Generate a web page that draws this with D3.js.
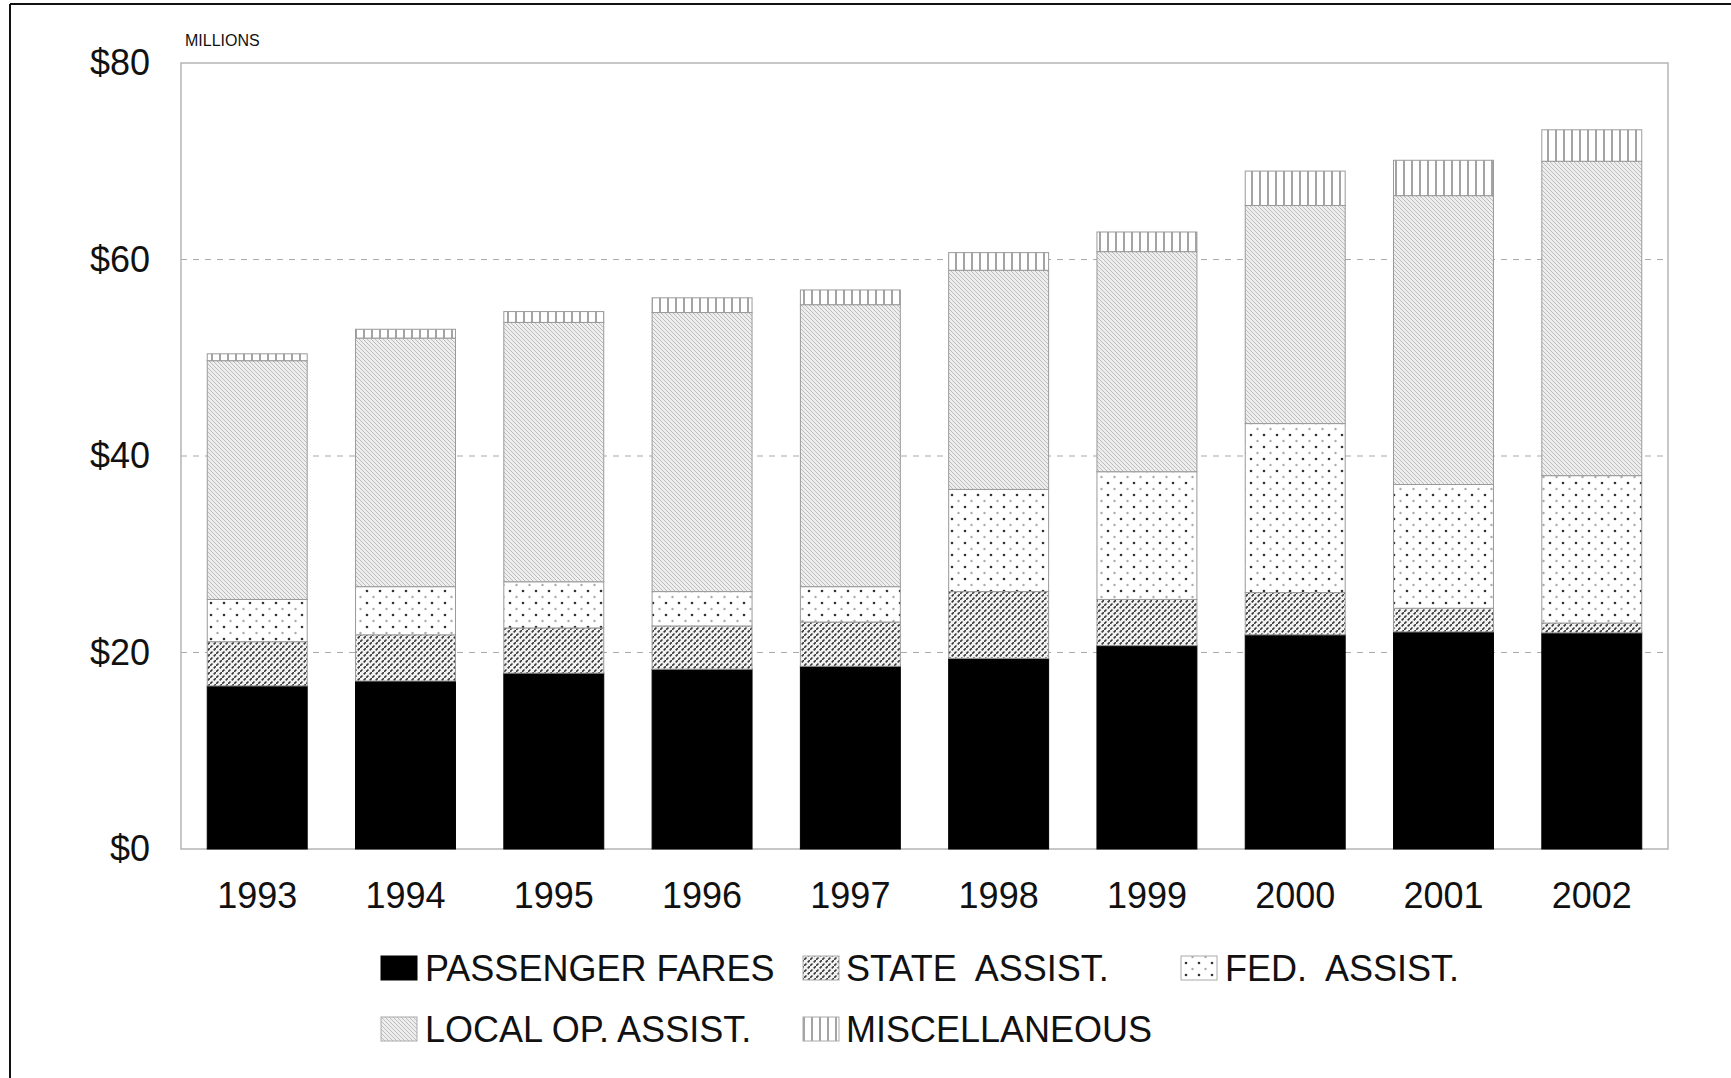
<!DOCTYPE html>
<html>
<head>
<meta charset="utf-8">
<script src="https://cdn.jsdelivr.net/npm/d3@7"></script>
<style>
  body { margin: 0; background: #fff; }
  text { font-family: "Liberation Sans", Arial, Helvetica, sans-serif; fill: #111; }
</style>
</head>
<body>
<svg id="chart" width="1731" height="1078"></svg>
<script>
var years = ['1993', '1994', '1995', '1996', '1997', '1998', '1999', '2000', '2001', '2002'];

var passengerFares = [16.6, 17.1, 17.9, 18.3, 18.6, 19.4, 20.7, 21.8, 22.1, 22.0];
var stateAssist    = [4.5, 4.7, 4.6, 4.4, 4.5, 6.8, 4.7, 4.3, 2.4, 1.0];
var fedAssist      = [4.3, 4.9, 4.7, 3.5, 3.6, 10.4, 13.0, 17.2, 12.6, 15.0];
var localOpAssist  = [24.3, 25.3, 26.4, 28.4, 28.7, 22.3, 22.4, 22.2, 29.4, 32.0];
var miscellaneous  = [0.7, 0.9, 1.1, 1.5, 1.5, 1.8, 2.0, 3.5, 3.6, 3.2];

var yTicks = [0, 20, 40, 60, 80];

var seriesKeys = ['fares', 'state', 'fed', 'local', 'misc'];
var seriesNames = ['PASSENGER FARES', 'STATE  ASSIST.', 'FED.  ASSIST.', 'LOCAL OP. ASSIST.', 'MISCELLANEOUS'];

var svg = d3.select('#chart');

// outer frame (only left and top edges fall inside the picture)
svg.append('line').attr('x1', 10).attr('y1', 4).attr('x2', 1731).attr('y2', 4)
  .attr('stroke', '#111').attr('stroke-width', 2);
svg.append('line').attr('x1', 10).attr('y1', 4).attr('x2', 10).attr('y2', 1078)
  .attr('stroke', '#111').attr('stroke-width', 2);

// fill patterns
var defs = svg.append('defs');

var p = defs.append('pattern').attr('id', 'pat-state').attr('patternUnits', 'userSpaceOnUse')
  .attr('width', 6).attr('height', 6);
p.append('rect').attr('width', 6).attr('height', 6).attr('fill', '#f2f2f2');
p.append('line').attr('x1', 0).attr('y1', 6).attr('x2', 6).attr('y2', 0)
  .attr('stroke', '#3a3a3a').attr('stroke-width', 1.6).attr('stroke-dasharray', '3.5,1.7');

p = defs.append('pattern').attr('id', 'pat-fed').attr('patternUnits', 'userSpaceOnUse')
  .attr('width', 13).attr('height', 12);
p.append('rect').attr('width', 13).attr('height', 12).attr('fill', '#fff');
p.append('circle').attr('cx', 3).attr('cy', 3).attr('r', 1.3).attr('fill', '#333');
p.append('circle').attr('cx', 9.5).attr('cy', 9).attr('r', 1.2).attr('fill', '#aaa');

p = defs.append('pattern').attr('id', 'pat-local').attr('patternUnits', 'userSpaceOnUse')
  .attr('width', 4).attr('height', 4);
p.append('rect').attr('width', 4).attr('height', 4).attr('fill', '#eeeeee');
p.append('line').attr('x1', 0).attr('y1', 0).attr('x2', 4).attr('y2', 4)
  .attr('stroke', '#b8b8b8').attr('stroke-width', 0.9);

p = defs.append('pattern').attr('id', 'pat-misc').attr('patternUnits', 'userSpaceOnUse')
  .attr('width', 8).attr('height', 8);
p.append('rect').attr('width', 8).attr('height', 8).attr('fill', '#fff');
p.append('line').attr('x1', 4).attr('y1', 0).attr('x2', 4).attr('y2', 8)
  .attr('stroke', '#666').attr('stroke-width', 1.2);

var fills = {
  fares: '#000',
  state: 'url(#pat-state)',
  fed: 'url(#pat-fed)',
  local: 'url(#pat-local)',
  misc: 'url(#pat-misc)'
};

var plot = { left: 181, right: 1668, top: 63, bottom: 849 };

var x = d3.scaleBand()
  .domain(years)
  .range([plot.left, plot.right])
  .paddingInner(0.326)
  .paddingOuter(0.177);

var y = d3.scaleLinear()
  .domain([0, 80])
  .range([plot.bottom, plot.top]);

// gridlines
svg.append('g').selectAll('line')
  .data([20, 40, 60])
  .join('line')
  .attr('x1', plot.left).attr('x2', plot.right)
  .attr('y1', function(d) { return y(d); })
  .attr('y2', function(d) { return y(d); })
  .attr('stroke', '#aaa').attr('stroke-width', 1.2)
  .attr('stroke-dasharray', '6,6');

// plot box
svg.append('rect')
  .attr('x', plot.left).attr('y', y(80))
  .attr('width', plot.right - plot.left).attr('height', y(0) - y(80))
  .attr('fill', 'none').attr('stroke', '#b5b5b5').attr('stroke-width', 1.5);

// y axis labels
var yAxis = d3.axisLeft(y)
  .tickValues(yTicks)
  .tickSize(0)
  .tickPadding(31)
  .tickFormat(function(d) { return '$' + d; });

var yg = svg.append('g').attr('transform', 'translate(' + plot.left + ',0)').call(yAxis);
yg.select('.domain').remove();
yg.selectAll('text').attr('font-size', 36).attr('fill', '#1a1a1a')
  .style('font-family', '"Liberation Sans", Arial, sans-serif');

svg.append('text').attr('x', 185).attr('y', 46)
  .attr('font-size', 16).attr('fill', '#333')
  .text('MILLIONS');

// stacked bars
var rows = years.map(function(yr, i) {
  return {
    year: yr,
    fares: passengerFares[i],
    state: stateAssist[i],
    fed: fedAssist[i],
    local: localOpAssist[i],
    misc: miscellaneous[i]
  };
});

var stacked = d3.stack().keys(seriesKeys)(rows);

svg.append('g').selectAll('g')
  .data(stacked)
  .join('g')
  .attr('fill', function(s) { return fills[s.key]; })
  .attr('stroke', function(s) { return s.key === 'fares' ? '#000' : '#9a9a9a'; })
  .attr('stroke-width', 1)
  .selectAll('rect')
  .data(function(s) { return s; })
  .join('rect')
  .attr('x', function(d) { return x(d.data.year); })
  .attr('width', x.bandwidth())
  .attr('y', function(d) { return y(d[1]); })
  .attr('height', function(d) { return y(d[0]) - y(d[1]); });

// x axis labels
var xAxis = d3.axisBottom(x).tickSize(0).tickPadding(0);
var xg = svg.append('g').attr('transform', 'translate(0,' + plot.bottom + ')').call(xAxis);
xg.select('.domain').remove();
xg.selectAll('text')
  .attr('dy', null).attr('y', 59)
  .attr('font-size', 36).attr('fill', '#1a1a1a')
  .style('font-family', '"Liberation Sans", Arial, sans-serif');

// legend
var legendPos = [
  { sx: 381, tx: 425, cy: 968 },
  { sx: 803, tx: 846, cy: 968 },
  { sx: 1181, tx: 1225, cy: 968 },
  { sx: 381, tx: 425, cy: 1029 },
  { sx: 803, tx: 846, cy: 1029 }
];

var legend = svg.append('g').selectAll('g')
  .data(seriesKeys)
  .join('g');

legend.append('rect')
  .attr('x', function(d, i) { return legendPos[i].sx; })
  .attr('y', function(d, i) { return legendPos[i].cy - 12; })
  .attr('width', 36).attr('height', 24)
  .attr('fill', function(d) { return fills[d]; })
  .attr('stroke', function(d) { return d === 'fares' ? '#000' : '#aaa'; })
  .attr('stroke-width', 1);

legend.append('text')
  .attr('x', function(d, i) { return legendPos[i].tx; })
  .attr('y', function(d, i) { return legendPos[i].cy + 13; })
  .attr('font-size', 36)
  .style('white-space', 'pre')
  .text(function(d, i) { return seriesNames[i]; });
</script>
</body>
</html>
